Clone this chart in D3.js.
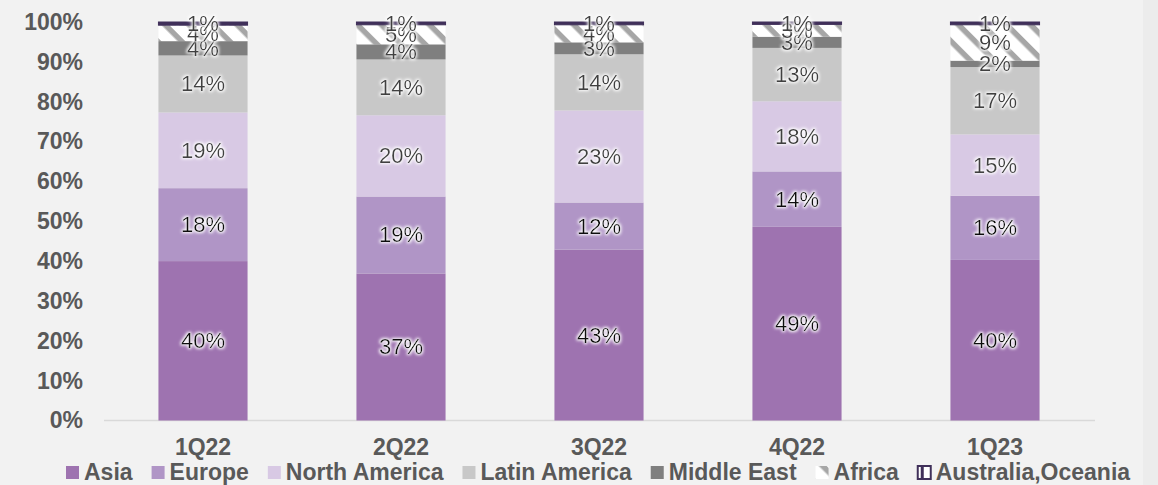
<!DOCTYPE html>
<meta charset="utf-8">
<style>
body { margin: 0; background: #f2f2f2; }
svg { display: block; font-family: "Liberation Sans", Arial, sans-serif; }
.axis text { font-size: 23px; font-weight: bold; fill: #595959; }
.axis .domain { display: none; }
.lbl { font-size: 22px; }
.legend text { font-size: 23px; font-weight: bold; fill: #595959; }
</style>
<svg width="1158" height="485"></svg>
<script src="https://cdn.jsdelivr.net/npm/d3@7"></script>
<script>

// data (percent share of each quarter)
var quarters = ["1Q22", "2Q22", "3Q22", "4Q22", "1Q23"];
var asia      = [40.0, 36.9, 42.9, 48.6, 40.3];
var europe    = [18.3, 19.3, 11.8, 13.9, 16.1];
var nAmerica  = [19.0, 20.4, 23.1, 17.6, 15.4];
var latAm     = [14.3, 14.0, 14.1, 13.4, 16.9];
var midEast   = [3.6, 3.8, 3.0, 2.8, 1.6];
var africa    = [4.0, 4.9, 4.4, 3.1, 9.0];
var australia = [0.8, 0.7, 0.7, 0.6, 0.7];
var seriesNames = ["Asia", "Europe", "North America", "Latin America", "Middle East", "Africa", "Australia,Oceania"];
var yTicks = [0, 10, 20, 30, 40, 50, 60, 70, 80, 90, 100];

var seriesValues = [asia, europe, nAmerica, latAm, midEast, africa, australia];
var fills = ["#9e73b0", "#b095c6", "#d8c9e4", "#c8c8c8", "#7f7f7f", "url(#hatch)", "url(#dash)"];
var labelColors = ["#111", "#111", "#404040", "#404040", "#404040", "#404040", "#404040"];

var svg = d3.select("svg");

// right edge strip
svg.append("rect").attr("x", 1143).attr("y", 0).attr("width", 15).attr("height", 485).attr("fill", "#ececec");

var defs = svg.append("defs");

var hatch = defs.append("pattern")
    .attr("id", "hatch")
    .attr("patternUnits", "userSpaceOnUse")
    .attr("width", 17).attr("height", 17)
    .attr("patternTransform", "rotate(45)");
hatch.append("rect").attr("width", 17).attr("height", 17).attr("fill", "#fff");
hatch.append("rect").attr("width", 17).attr("height", 5.5).attr("fill", "#a6a6a6");

var dash = defs.append("pattern")
    .attr("id", "dash")
    .attr("patternUnits", "userSpaceOnUse")
    .attr("width", 10).attr("height", 6);
dash.append("rect").attr("width", 10).attr("height", 6).attr("fill", "#40305a");
dash.append("rect").attr("x", 6).attr("y", 1).attr("width", 3).attr("height", 2).attr("fill", "#c9bcd9");

var glow = defs.append("filter").attr("id", "glow")
    .attr("x", "-20%").attr("y", "-40%").attr("width", "140%").attr("height", "180%");
glow.append("feMorphology").attr("in", "SourceAlpha").attr("operator", "dilate").attr("radius", 0.6).attr("result", "d");
glow.append("feGaussianBlur").attr("in", "d").attr("stdDeviation", 1.8).attr("result", "b");
glow.append("feFlood").attr("flood-color", "#fff").attr("flood-opacity", 1).attr("result", "f");
glow.append("feComposite").attr("in", "f").attr("in2", "b").attr("operator", "in").attr("result", "g");
var merge = glow.append("feMerge");
merge.append("feMergeNode").attr("in", "g");
merge.append("feMergeNode").attr("in", "SourceGraphic");

var x = d3.scaleBand().domain(quarters).range([104, 1094]).paddingInner(0.55).paddingOuter(0.275);
var y = d3.scaleLinear().domain([0, 100]).range([420.5, 22]);

// stack the table
var table = quarters.map(function(q, i) {
  var row = {quarter: q};
  seriesNames.forEach(function(s, j) { row[s] = seriesValues[j][i]; });
  return row;
});
var stacked = d3.stack().keys(seriesNames)(table);

// baseline
svg.append("line")
    .attr("x1", 104).attr("x2", 1095)
    .attr("y1", y(0)).attr("y2", y(0))
    .attr("stroke", "#d9d9d9").attr("stroke-width", 1.5);

var layer = svg.selectAll(".layer")
  .data(stacked)
  .enter().append("g")
    .attr("class", "layer")
    .attr("fill", function(d, i) { return fills[i]; });

layer.selectAll("rect")
  .data(function(d) { return d; })
  .enter().append("rect")
    .attr("x", function(d) { return x(d.data.quarter); })
    .attr("y", function(d) { return y(d[1]); })
    .attr("width", x.bandwidth())
    .attr("height", function(d) { return y(d[0]) - y(d[1]); });

// Australia segment outline
svg.selectAll(".layer").filter(function(d, i) { return i === 6; }).selectAll("rect")
    .attr("stroke", "#40305a").attr("stroke-width", 1);

var fmt = function(v) { return Math.round(v) + "%"; };

stacked.forEach(function(s, i) {
  svg.append("g").selectAll("text")
    .data(s)
    .enter().append("text")
      .attr("class", "lbl")
      .attr("filter", "url(#glow)")
      .attr("fill", labelColors[i])
      .attr("text-anchor", "middle")
      .attr("dominant-baseline", "central")
      .attr("x", function(d) { return x(d.data.quarter) + x.bandwidth() / 2; })
      .attr("y", function(d) { return (y(d[0]) + y(d[1])) / 2; })
      .text(function(d) { return fmt(d[1] - d[0]); });
});

// axes
svg.append("g")
    .attr("class", "axis")
    .attr("transform", "translate(104,0)")
    .call(d3.axisLeft(y).tickValues(yTicks).tickSize(0).tickPadding(21).tickFormat(function(d) { return d + "%"; }));

svg.append("g")
    .attr("class", "axis")
    .attr("transform", "translate(0," + y(0) + ")")
    .call(d3.axisBottom(x).tickSize(0).tickPadding(18));

// legend
var legend = svg.append("g").attr("class", "legend");
var lx = 66;
seriesNames.forEach(function(name, i) {
  var item = legend.append("g");
  var sw = item.append("rect")
      .attr("x", lx).attr("y", 466)
      .attr("width", 13).attr("height", 13)
      .attr("fill", i === 6 ? "#fff" : fills[i]);
  if (i === 6) {
    sw.attr("stroke", "#40305a").attr("stroke-width", 2);
    item.append("rect").attr("x", lx + 3).attr("y", 467).attr("width", 3).attr("height", 11).attr("fill", "#40305a");
  }
  var t = item.append("text")
      .attr("x", lx + 18).attr("y", 480)
      .text(name);
  lx += 18 + t.node().getComputedTextLength() + 19;
});

</script>
